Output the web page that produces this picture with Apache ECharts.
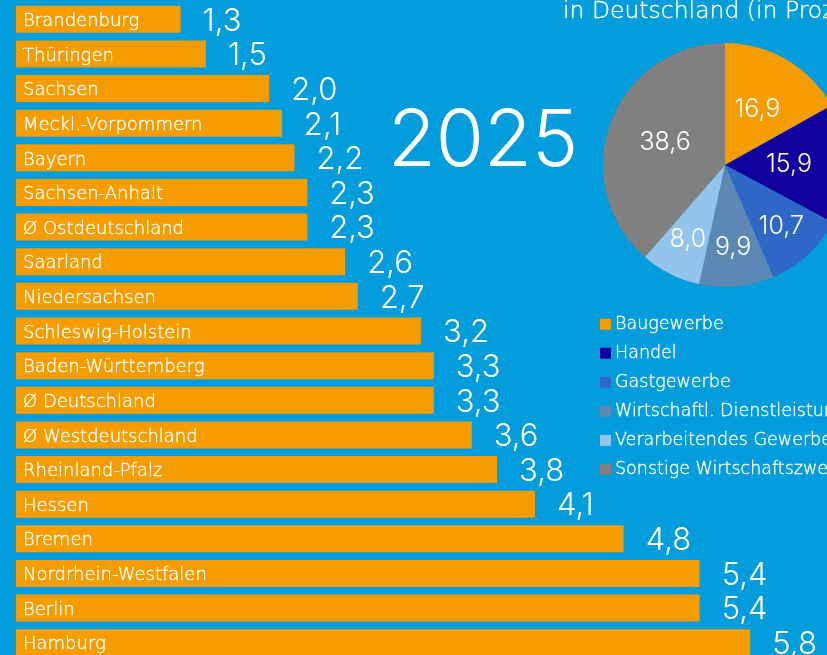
<!DOCTYPE html>
<html>
<head>
<meta charset="utf-8">
<script src="https://cdn.jsdelivr.net/npm/echarts@6/dist/echarts.min.js"></script>
<style>
  html, body { margin: 0; padding: 0; background: #039cdc; }
  #chart { width: 827px; height: 655px; }
</style>
</head>
<body>
<div id="chart"></div>
<script>
const regions = ['Brandenburg', 'Thüringen', 'Sachsen', 'Meckl.-Vorpommern', 'Bayern', 'Sachsen-Anhalt',
  'Ø Ostdeutschland', 'Saarland', 'Niedersachsen', 'Schleswig-Holstein', 'Baden-Württemberg',
  'Ø Deutschland', 'Ø Westdeutschland', 'Rheinland-Pfalz', 'Hessen', 'Bremen',
  'Nordrhein-Westfalen', 'Berlin', 'Hamburg'];
const rates = [1.3, 1.5, 2.0, 2.1, 2.2, 2.3, 2.3, 2.6, 2.7, 3.2, 3.3, 3.3, 3.6, 3.8, 4.1, 4.8, 5.4, 5.4, 5.8];

const sectors = ['Baugewerbe', 'Handel', 'Gastgewerbe', 'Wirtschaftl. Dienstleistungen',
  'Verarbeitendes Gewerbe', 'Sonstige Wirtschaftszweige'];
const shares = [16.9, 15.9, 10.7, 9.9, 8.0, 38.6];
const sectorColors = ['#f59c00', '#12009e', '#2e67c6', '#5b89b4', '#93c4ec', '#808080'];
// small slices get their label further out
const outerLabel = [false, false, true, true, true, false];

const fmt = (v) => v.toFixed(1).replace('.', ',');
const font = 'Inter, "Open Sans", sans-serif';
const wide = '"DejaVu Sans", sans-serif';
// DejaVu ExtraLight is a bit too thin, thicken it a little
const thin = { fontWeight: 200, fontFamily: wide, textBorderColor: '#fff', textBorderWidth: 0.35 };

const chart = echarts.init(document.getElementById('chart'));

chart.setOption({
  backgroundColor: '#039cdc',
  animation: false,
  title: [
    {
      text: 'in Deutschland (in Prozent)',
      left: 563, top: 0, padding: 0,
      textStyle: { color: '#fff', fontSize: 23.5, ...thin }
    },
    {
      text: '2025',
      left: 383, top: 99,
      textStyle: { color: '#fff', fontSize: 78, fontWeight: 300, fontFamily: font }
    }
  ],
  legend: {
    data: sectors,
    orient: 'vertical',
    left: 595, top: 310,
    itemWidth: 11, itemHeight: 11, itemGap: 10.7,
    icon: 'rect',
    textStyle: { color: '#fff', fontSize: 17.5, ...thin, padding: [0, 0, 0, -1] }
  },
  grid: { left: 16, right: 0, top: 2, height: 658, outerBoundsMode: 'none' },
  xAxis: { type: 'value', min: 0, max: 811 / 126.6, show: false },
  yAxis: { type: 'category', data: regions, inverse: true, show: false },
  series: [
    {
      type: 'bar',
      data: rates,
      barWidth: 27,
      itemStyle: { color: '#f59c00' },
      label: {
        show: true, position: 'insideLeft', distance: 7, offset: [0, 2],
        formatter: '{b}', color: '#fff', fontSize: 18, ...thin
      },
      z: 2
    },
    {
      type: 'bar',
      data: rates,
      barWidth: 27,
      barGap: '-100%',
      itemStyle: { color: 'transparent' },
      label: {
        show: true, position: 'right', distance: 22, offset: [0, 2],
        formatter: (p) => fmt(p.value), color: '#fff', fontSize: 31, fontWeight: 300, fontFamily: font
      },
      z: 3
    },
    {
      type: 'pie',
      center: [725, 165],
      radius: [0, 122],
      startAngle: 90,
      clockwise: true,
      data: sectors.map((n, i) => ({
        name: n, value: shares[i], itemStyle: { color: sectorColors[i] },
        label: { show: !outerLabel[i] }
      })),
      label: {
        position: 'inside', color: '#fff', fontSize: 25, fontWeight: 300, fontFamily: font,
        formatter: (p) => fmt(p.value)
      },
      labelLine: { show: false }
    },
    {
      type: 'pie',
      center: [725, 165],
      radius: [0, 160],
      startAngle: 90,
      clockwise: true,
      silent: true,
      legendHoverLink: false,
      data: sectors.map((n, i) => ({
        name: n + ' ', value: shares[i], itemStyle: { color: 'transparent' },
        label: { show: outerLabel[i] }
      })),
      label: {
        position: 'inside', color: '#fff', fontSize: 25, fontWeight: 300, fontFamily: font,
        formatter: (p) => fmt(p.value)
      },
      labelLine: { show: false }
    }
  ]
});
</script>
</body>
</html>
